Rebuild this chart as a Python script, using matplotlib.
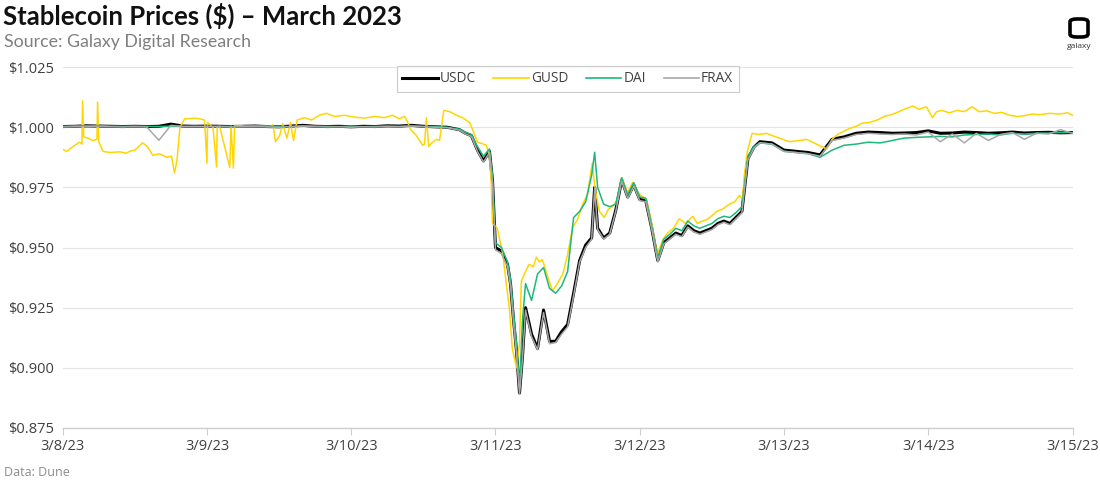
import matplotlib
matplotlib.use("Agg")
import matplotlib.pyplot as plt
from matplotlib.patches import FancyBboxPatch
from matplotlib.lines import Line2D

# ---------------- data (hours since 3/8/23 00:00) ----------------
hours = [0, 2, 4, 6, 8, 10, 12, 14, 16, 18, 20, 22, 24, 26, 28, 30, 32, 34, 36, 38,
         40, 42, 44, 46, 48, 50, 52, 54, 56, 58, 60, 62,
         64, 66, 67, 68, 69, 70, 71, 71.5, 72, 73, 74, 74.5, 75, 75.5, 76, 76.5, 77, 78,
         79, 80, 81, 82, 83, 84, 85, 86, 87, 88, 88.5, 89, 90, 91, 92, 93, 94, 95, 96, 97,
         98, 99, 100, 101, 102, 103, 104, 105, 106, 107, 108, 109, 110, 111, 112, 113, 114,
         115, 116, 118, 120, 122, 124, 126, 128, 130, 132, 134, 136, 138, 140, 142, 144,
         146, 148, 150, 152, 154, 156, 158, 160, 162, 164, 166, 168]

usdc = [1.0003, 1.0004, 1.0006, 1.0005, 1.0004, 1.0003, 1.0004, 1.0003, 1.0004, 1.0013,
        1.0005, 1.0004, 1.0005, 1.0004, 1.0003, 1.0004, 1.0005, 1.0003, 1.0002, 1.0005,
        1.0008, 1.0004, 1.0003, 1.0004, 1.0002, 1.0004, 1.0003, 1.0006, 1.0005, 1.0008,
        1.0004, 1.0002,
        1.0000, 0.9990, 0.9975, 0.9965, 0.9905, 0.9860, 0.9900, 0.9780, 0.9500, 0.9485,
        0.9430, 0.9350, 0.9200, 0.9070, 0.8895, 0.9050, 0.9250, 0.9140, 0.9080, 0.9240,
        0.9110, 0.9110, 0.9150, 0.9180, 0.9310, 0.9446, 0.9510, 0.9540, 0.9750, 0.9580,
        0.9540, 0.9560, 0.9654, 0.9780, 0.9710, 0.9760, 0.9700, 0.9695, 0.9580, 0.9446,
        0.9520, 0.9540, 0.9560, 0.9550, 0.9590, 0.9570, 0.9560, 0.9570, 0.9580, 0.9600,
        0.9610, 0.9600, 0.9625, 0.9650, 0.9870, 0.9917, 0.9940, 0.9935, 0.9905, 0.9900,
        0.9895, 0.9885, 0.9950, 0.9960, 0.9975, 0.9980, 0.9978, 0.9975, 0.9976, 0.9978,
        0.9985, 0.9975, 0.9976, 0.9980, 0.9978, 0.9975, 0.9977, 0.9980, 0.9976, 0.9978,
        0.9979, 0.9977, 0.9978]

dai = [1.0004, 1.0006, 1.0005, 1.0007, 1.0005, 1.0004, 1.0005, 1.0004, 1.0003, 1.0005,
       1.0004, 1.0005, 1.0004, 1.0005, 1.0004, 1.0003, 1.0004, 1.0005, 1.0004, 1.0003,
       1.0006, 1.0005, 1.0004, 1.0003, 1.0005, 1.0003, 1.0004, 1.0005, 1.0003, 1.0006,
       1.0004, 1.0003,
       1.0000, 0.9992, 0.9980, 0.9970, 0.9920, 0.9880, 0.9910, 0.9800, 0.9520, 0.9500,
       0.9440, 0.9370, 0.9230, 0.9100, 0.8920, 0.9200, 0.9350, 0.9280, 0.9390, 0.9417,
       0.9330, 0.9310, 0.9340, 0.9400, 0.9625, 0.9650, 0.9690, 0.9800, 0.9896, 0.9750,
       0.9680, 0.9670, 0.9680, 0.9790, 0.9720, 0.9770, 0.9710, 0.9705, 0.9590, 0.9455,
       0.9535, 0.9555, 0.9580, 0.9570, 0.9610, 0.9590, 0.9580, 0.9590, 0.9600, 0.9620,
       0.9630, 0.9625, 0.9645, 0.9670, 0.9880, 0.9920, 0.9935, 0.9930, 0.9900, 0.9895,
       0.9890, 0.9875, 0.9905, 0.9925, 0.9930, 0.9938, 0.9935, 0.9945, 0.9955, 0.9958,
       0.9960, 0.9962, 0.9960, 0.9968, 0.9970, 0.9972, 0.9968, 0.9975, 0.9972, 0.9975,
       0.9976, 0.9978, 0.9978]

frax = [1.0001, 1.0002, 1.0004, 1.0003, 1.0002, 1.0001, 1.0002, 1.0001, 0.9946, 1.0008,
        1.0003, 1.0002, 1.0003, 1.0002, 1.0001, 1.0002, 1.0003, 1.0001, 1.0000, 1.0003,
        1.0005, 1.0002, 1.0001, 1.0002, 1.0000, 1.0002, 1.0001, 1.0003, 1.0003, 1.0005,
        1.0002, 1.0000,
        0.9998, 0.9988, 0.9972, 0.9962, 0.9900, 0.9855, 0.9895, 0.9770, 0.9490, 0.9475,
        0.9420, 0.9340, 0.9185, 0.9055, 0.8890, 0.9040, 0.9240, 0.9130, 0.9075, 0.9230,
        0.9100, 0.9105, 0.9140, 0.9170, 0.9300, 0.9440, 0.9500, 0.9535, 0.9745, 0.9575,
        0.9535, 0.9555, 0.9650, 0.9775, 0.9705, 0.9755, 0.9695, 0.9690, 0.9575, 0.9440,
        0.9515, 0.9535, 0.9555, 0.9545, 0.9585, 0.9565, 0.9555, 0.9565, 0.9575, 0.9595,
        0.9605, 0.9595, 0.9620, 0.9645, 0.9865, 0.9912, 0.9936, 0.9930, 0.9900, 0.9895,
        0.9890, 0.9880, 0.9945, 0.9955, 0.9970, 0.9975, 0.9972, 0.9970, 0.9972, 0.9968,
        0.9980, 0.9940, 0.9972, 0.9935, 0.9975, 0.9945, 0.9970, 0.9978, 0.9950, 0.9975,
        0.9972, 0.9990, 0.9975]

gusd_hours = [0, 0.7, 1.7, 2.8, 3.2, 3.3, 3.5, 4.2, 5.0, 5.7, 5.8, 6.0, 6.7, 7.8, 9.5,
              10.6, 11.1, 12, 13.3, 14.1, 15, 16.1, 17.3, 18.1, 18.6, 19, 19.5, 20.3, 22,
              22.8, 23.6, 24, 24.1, 25, 25.6, 25.7, 26.1, 27.8, 28, 28.4, 28.6, 30.3, 32.8,
              34.4, 35, 35.4, 36.1, 36.6, 37.3, 37.9, 38.4, 39, 40.2, 41.4, 42.7, 43.9,
              45.2, 46.9, 48.6, 50.2, 51.9, 53.5, 54.9, 56, 56.9, 57.4, 57.9, 58.7, 59.9,
              60.2, 60.5, 60.9, 61.4, 62.2, 62.7, 63.4, 64.4, 65.5, 66.5, 67.7, 68.2, 69,
              70, 70.5, 71, 71.3, 71.5, 72.3, 73.2, 73.8, 74.3, 74.8, 75.5, 76, 76.3, 77,
              77.6, 78.3, 78.8, 79.3, 79.8, 80.7, 81.5, 82.3, 83.2, 84, 84.8, 85.7, 86.5,
              87.3, 88.1, 88.6, 89.3, 90.1, 90.8, 91.5, 92.3, 93, 94, 94.8, 96, 97.1, 98,
              98.9, 99.8, 100.6, 101.6, 102.6, 103.6, 104.8, 105.6, 106.4, 107.1, 107.9,
              108.8, 109.8, 110.9, 111.8, 112.6, 113.1, 113.4, 113.9, 114.7, 115.9, 117.1,
              118.1, 119.2, 120.9, 122.6, 123.7, 125, 126.2, 127.1, 128, 128.9, 129.7,
              130.9, 132.1, 133, 134.2, 135.5, 136.7, 137.5, 138.7, 140, 141.4, 142.5,
              143.7, 144.7, 145.4, 146.3, 147.5, 148.8, 150, 151.3, 152.5, 153.8, 155,
              156.2, 157.5, 158.8, 160, 161.3, 162.5, 164.2, 165.8, 167.2, 168]

gusd = [0.9908, 0.9900, 0.9920, 0.9938, 0.9930, 1.0110, 0.9960, 0.9955, 0.9945, 0.9950,
        1.0105, 0.9940, 0.9900, 0.9895, 0.9898, 0.9892, 0.9900, 0.9905, 0.9935, 0.9920,
        0.9883, 0.9890, 0.9875, 0.9880, 0.9810, 0.9860, 1.0000, 1.0035, 1.0038, 1.0035,
        1.0030, 0.9850, 1.0020, 1.0000, 0.9835, 1.0000, 1.0005, 0.9833, 1.0005, 0.9830,
        1.0008, 1.0005, 1.0005, 1.0004, 1.0010, 0.9940, 0.9965, 1.0015, 0.9955, 1.0020,
        0.9945, 1.0030, 1.0040, 1.0030, 1.0050, 1.0058, 1.0045, 1.0050, 1.0042, 1.0038,
        1.0045, 1.0040, 1.0050, 1.0035, 1.0045, 1.0020, 0.9990, 0.9970, 0.9925, 0.9930,
        1.0040, 0.9920, 0.9935, 0.9950, 0.9946, 1.0070, 1.0065, 1.0050, 1.0040, 1.0020,
        0.9990, 0.9938, 0.9930, 0.9925, 0.9880, 0.9770, 0.9600, 0.9580, 0.9475, 0.9350,
        0.9250, 0.9080, 0.9000, 0.9100, 0.9360, 0.9400, 0.9430, 0.9420, 0.9460, 0.9440,
        0.9450, 0.9380, 0.9320, 0.9350, 0.9390, 0.9470, 0.9580, 0.9620, 0.9680, 0.9720,
        0.9850, 0.9740, 0.9650, 0.9625, 0.9660, 0.9670, 0.9700, 0.9790, 0.9730, 0.9770,
        0.9720, 0.9700, 0.9600, 0.9470, 0.9530, 0.9560, 0.9580, 0.9620, 0.9600, 0.9630,
        0.9600, 0.9610, 0.9615, 0.9630, 0.9650, 0.9660, 0.9680, 0.9690, 0.9717, 0.9700,
        0.9800, 0.9900, 0.9975, 0.9970, 0.9975, 0.9965, 0.9955, 0.9940, 0.9945, 0.9950,
        0.9935, 0.9920, 0.9910, 0.9950, 0.9970, 0.9980, 0.9995, 1.0005, 1.0017, 1.0020,
        1.0030, 1.0045, 1.0050, 1.0060, 1.0075, 1.0088, 1.0075, 1.0085, 1.0040, 1.0065,
        1.0070, 1.0060, 1.0070, 1.0065, 1.0085, 1.0065, 1.0068, 1.0058, 1.0062, 1.0050,
        1.0045, 1.0048, 1.0055, 1.0052, 1.0058, 1.0055, 1.0060, 1.0050]

tick_hours = [0, 24, 48, 72, 96, 120, 144, 168]
tick_labels = ["3/8/23", "3/9/23", "3/10/23", "3/11/23", "3/12/23", "3/13/23", "3/14/23", "3/15/23"]
y_ticks = [0.875, 0.900, 0.925, 0.950, 0.975, 1.000, 1.025]

# ---------------- figure ----------------
fig = plt.figure(figsize=(11, 4.83), dpi=100)
ax = fig.add_axes([0.057, 0.114, 0.918, 0.747])

c_usdc, c_gusd, c_dai, c_frax = "#000000", "#FFD600", "#1DB87A", "#A8A8A8"
ax.plot(hours, usdc, color=c_usdc, lw=2.2, label="USDC", zorder=3)
ax.plot(gusd_hours, gusd, color=c_gusd, lw=1.1, label="GUSD", zorder=4)
ax.plot(hours, dai, color=c_dai, lw=1.1, label="DAI", zorder=5)
ax.plot(hours, frax, color=c_frax, lw=1.1, label="FRAX", zorder=6)

ax.set_xlim(0, 168)
ax.set_ylim(0.875, 1.025)
ax.set_yticks(y_ticks)
ax.set_yticklabels([f"${v:.3f}" for v in y_ticks])
ax.set_xticks(tick_hours)
ax.set_xticklabels(tick_labels)
ax.grid(axis="y", color="#E3E3E3", lw=0.8, zorder=0)
ax.set_axisbelow(True)
for s in ["top", "right", "left"]:
    ax.spines[s].set_visible(False)
ax.spines["bottom"].set_color("#CFCFCF")
ax.spines["bottom"].set_linewidth(1.0)
ax.tick_params(axis="y", length=0, labelsize=10.5, labelcolor="#404040", pad=6)
ax.tick_params(axis="x", length=5, color="#CFCFCF", labelsize=10.5, labelcolor="#404040", pad=3)
for lab in ax.get_xticklabels() + ax.get_yticklabels():
    lab.set_fontfamily("Open Sans")

handles = [Line2D([0], [0], color=c_usdc, lw=2.2),
           Line2D([0], [0], color=c_gusd, lw=1.2),
           Line2D([0], [0], color=c_dai, lw=1.2),
           Line2D([0], [0], color=c_frax, lw=1.2)]
leg = ax.legend(handles, ["USDC", "GUSD", "DAI", "FRAX"], loc="upper center",
                bbox_to_anchor=(0.5, 1.003), ncol=4, frameon=True, fancybox=False,
                edgecolor="#BFBFBF", handlelength=2.6, columnspacing=1.3,
                handletextpad=0.15, borderpad=0.4, borderaxespad=0.0,
                prop={"family": "Open Sans", "size": 9.8})
leg.get_frame().set_linewidth(0.8)
for t in leg.get_texts():
    t.set_color("#404040")

fig.text(0.003, 0.968, "Stablecoin Prices ($) \u2013 March 2023", fontsize=18.5,
         fontweight="bold", family="Lato", ha="left", va="center", color="#111111")
fig.text(0.004, 0.914, "Source: Galaxy Digital Research", fontsize=12.8,
         family="Lato", ha="left", va="center", color="#7F7F7F")
fig.text(0.004, 0.021, "Data: Dune", fontsize=9, family="Open Sans",
         ha="left", va="center", color="#8C8C8C")

# logo
logo = FancyBboxPatch((1070 / 1100, 1 - 37 / 483), 18 / 1100, 18 / 483,
                      boxstyle="round,pad=0,rounding_size=0.006",
                      transform=fig.transFigure, facecolor="white",
                      edgecolor="black", lw=2.6)
fig.patches.append(logo)
fig.text(1079 / 1100, 1 - 46 / 483, "galaxy", fontsize=6, family="Open Sans",
         ha="center", va="center", color="#333333")

fig.savefig("out.png", dpi=100)
